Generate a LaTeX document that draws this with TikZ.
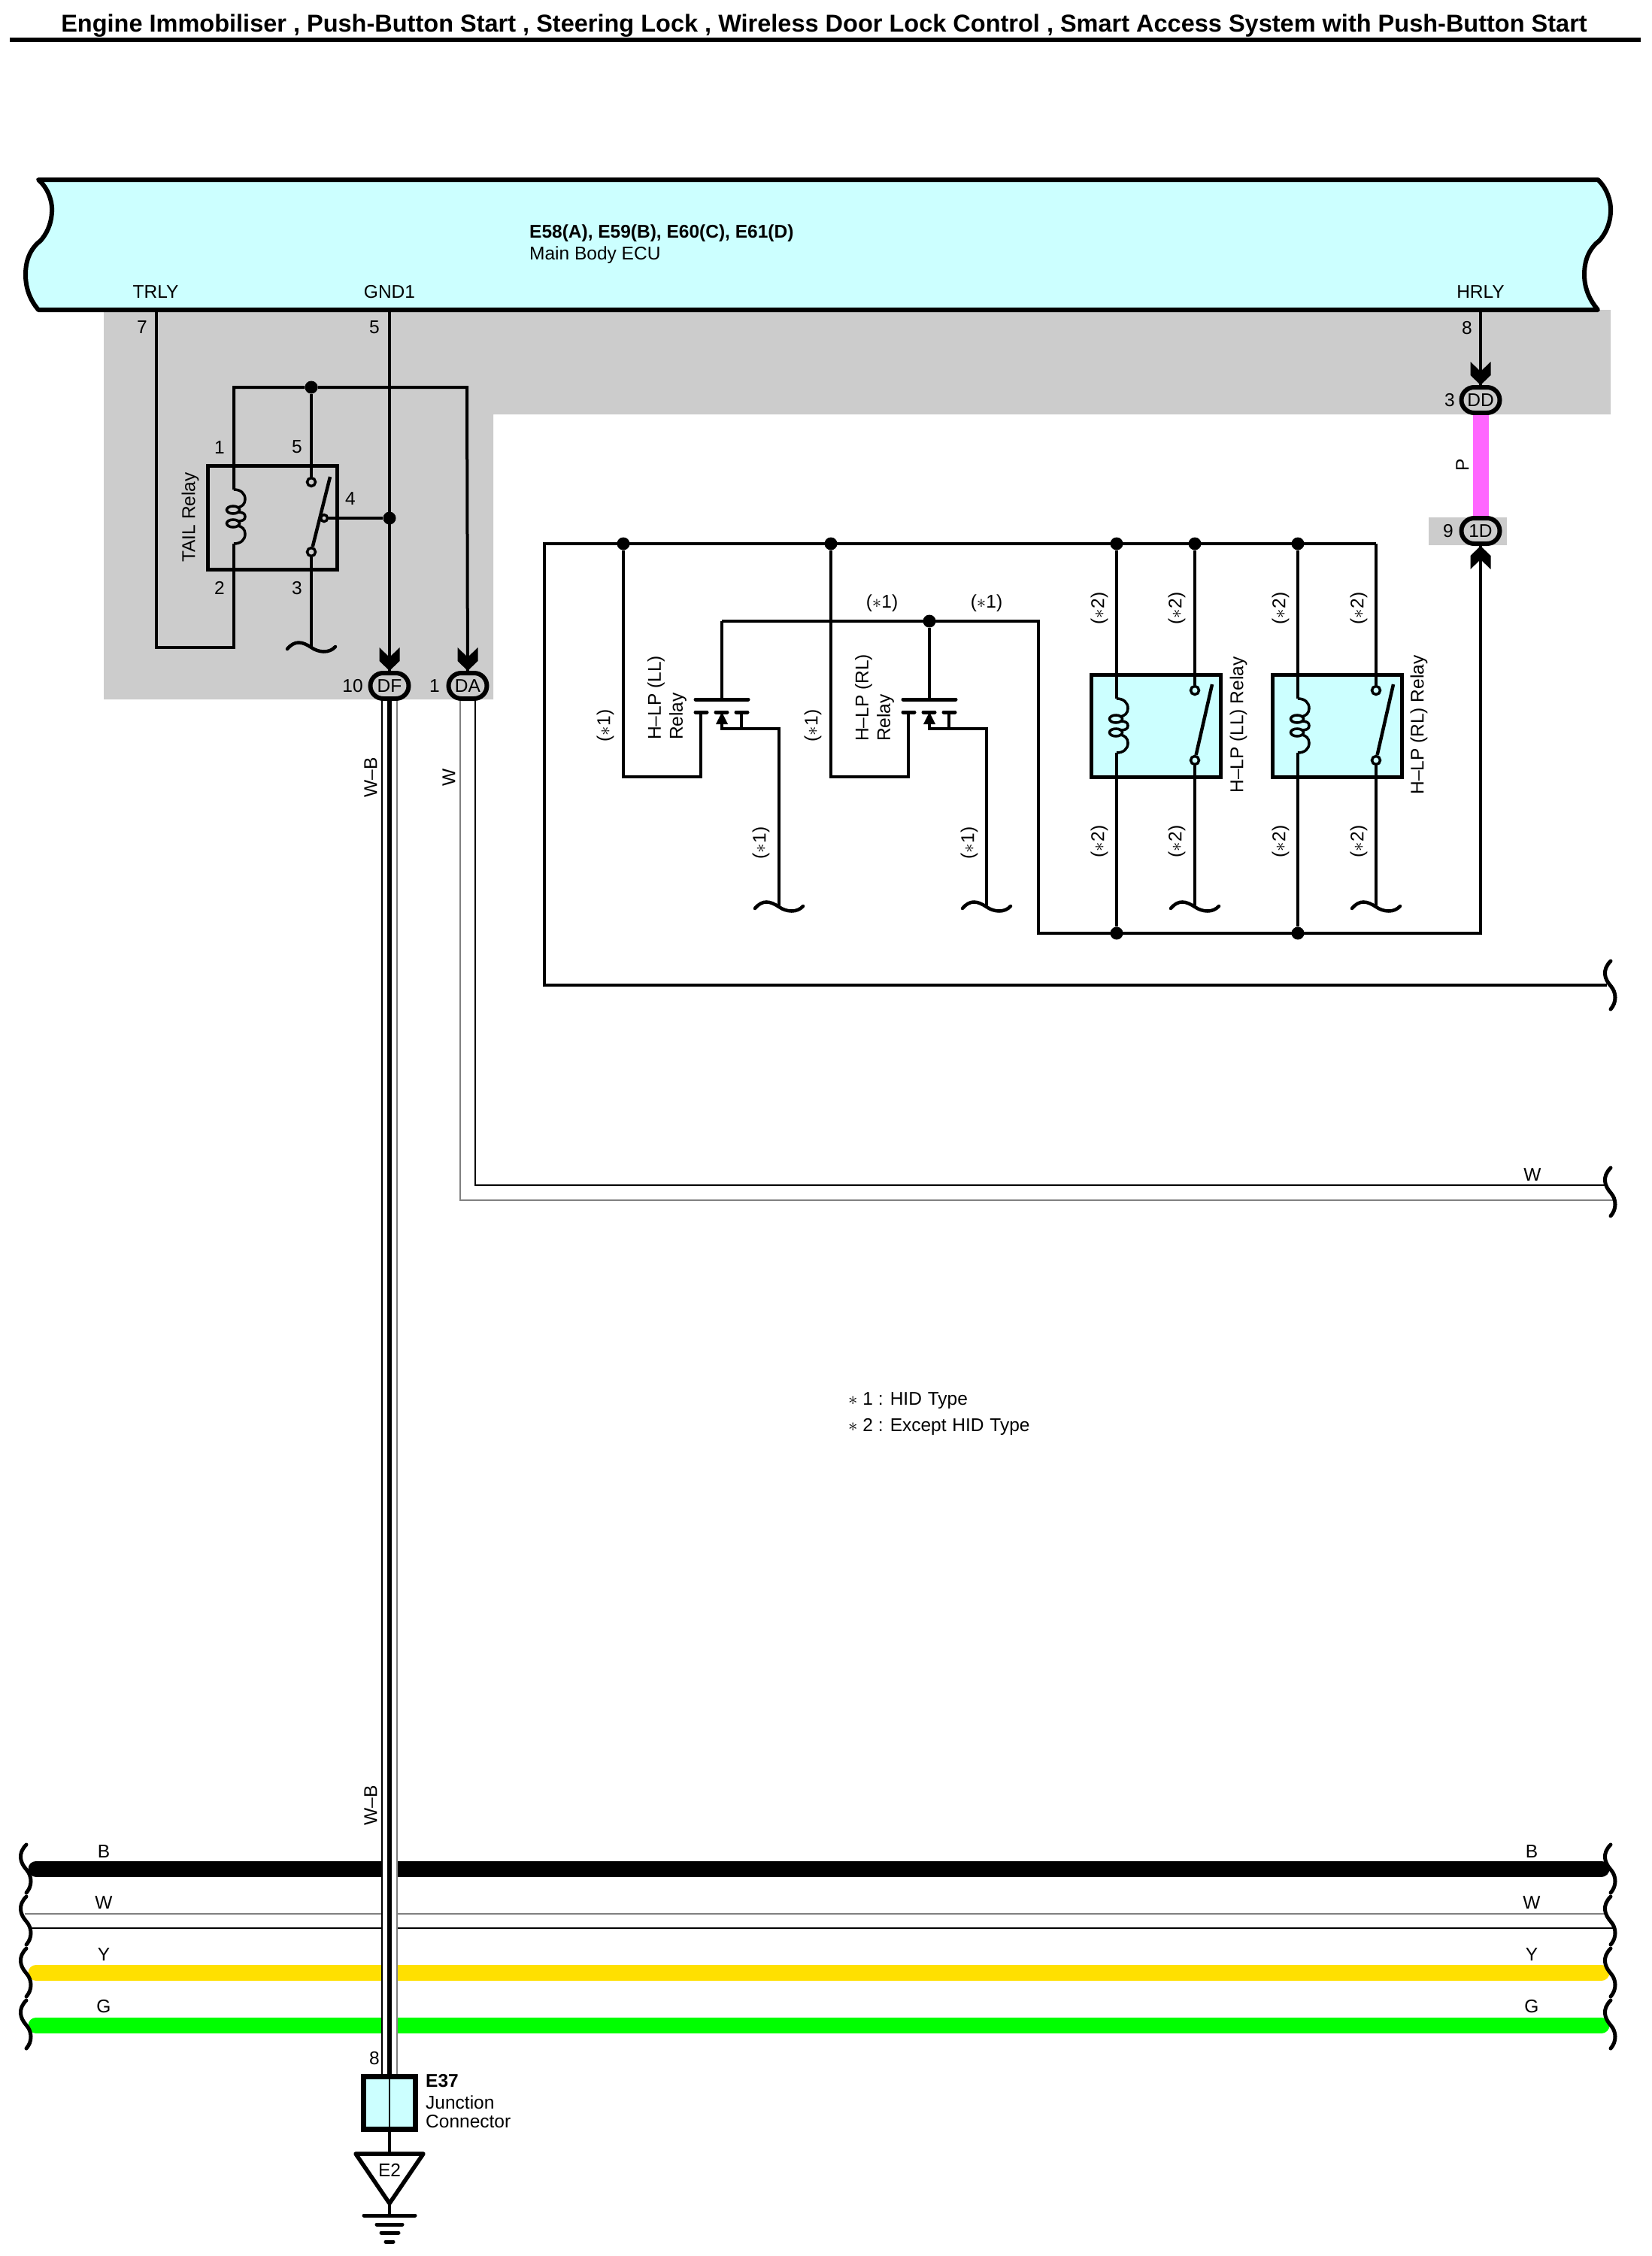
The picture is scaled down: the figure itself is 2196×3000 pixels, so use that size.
\documentclass[tikz,border=0pt]{standalone}
\usepackage{fontspec}
\setmainfont{Liberation Sans}
\usetikzlibrary{positioning}
\definecolor{ecucyan}{HTML}{CCFFFF}
\definecolor{bandgrey}{HTML}{CCCCCC}
\definecolor{wiregrey}{HTML}{808080}
\definecolor{wirepink}{HTML}{FF66FF}
\definecolor{wireyellow}{HTML}{FFE000}
\definecolor{wiregreen}{HTML}{00FF00}
\tikzset{wire/.style = {line width=4pt, line join=miter},
         lbl/.style = {font=\fontsize{24.5}{29}\selectfont, inner sep=0pt},
         dot/.style = {circle, fill=black, inner sep=0pt, minimum size=17pt},
         contact/.style = {circle, draw, line width=3.5pt, inner sep=0pt, minimum size=11pt},
         relaybox/.style = {draw, line width=5pt, inner sep=0pt, minimum width=172pt, minimum height=136pt},
         plug/.style = {lbl, draw, line width=6pt, rounded corners=17pt, minimum width=51pt, minimum height=34pt},
         bar/.style = {line width=5pt, line cap=round},
         hbrace/.style = {line width=5pt, line cap=round},
         busline/.style = {line width=21pt, line cap=round}}

% wavy end of a wire that carries on elsewhere
\newcommand{\wireend}[1]{\draw [line width=4.5pt, line cap=round]
  ([shift={(-32,2)}]#1) .. controls ([shift={(-22,-10)}]#1) and ([shift={(-12,-8)}]#1) .. (#1)
  .. controls ([shift={(10,7)}]#1) and ([shift={(24,8)}]#1) .. ([shift={(32,-1)}]#1);}
\newcommand{\harnessbrace}[1]{\draw [hbrace]
  (#1) .. controls ([shift={(-12,12)}]#1) and ([shift={(-8,24)}]#1) .. ([shift={(0,33)}]#1)
  .. controls ([shift={(8,42)}]#1) and ([shift={(8,55)}]#1) .. ([shift={(0,64)}]#1);}
\newcommand{\relaycoil}[1]{
  \draw [line width=3.5pt]
    (#1) .. controls ([shift={(9,0)}]#1) and ([shift={(15,5)}]#1) .. ([shift={(15,13)}]#1)
    .. controls ([shift={(15,19)}]#1) and ([shift={(11,23)}]#1) .. ([shift={(5,24)}]#1);
  \draw [line width=3.5pt]
    ([shift={(5,30)}]#1) .. controls ([shift={(12,30)}]#1) and ([shift={(15,32)}]#1) .. ([shift={(15,36)}]#1)
    .. controls ([shift={(15,40)}]#1) and ([shift={(12,42)}]#1) .. ([shift={(5,42)}]#1);
  \draw [line width=3.5pt]
    ([shift={(5,48)}]#1) .. controls ([shift={(11,49)}]#1) and ([shift={(15,53)}]#1) .. ([shift={(15,59)}]#1)
    .. controls ([shift={(15,67)}]#1) and ([shift={(9,72)}]#1) .. ([shift={(0,72)}]#1);
  \draw [line width=3.5pt] ([shift={(-1,27)}]#1) ellipse [x radius=8.5, y radius=5];
  \draw [line width=3.5pt] ([shift={(-1,45)}]#1) ellipse [x radius=8.5, y radius=5];}
% #2 is -1 when the tip points down, 1 when it points up
\newcommand{\plugtip}[2]{\fill
  ([shift={(-13.5,#2*31)}]#1) -- ([shift={(-13.5,#2*13)}]#1) -- (#1) -- ([shift={(13.5,#2*13)}]#1)
  -- ([shift={(13.5,#2*31)}]#1) -- ([shift={(0,#2*18)}]#1) -- cycle;}
\newcommand{\hidmark}[1]{($\ast$#1)}

\begin{document}
\begin{tikzpicture}[x=1pt, y=-1pt]
    \useasboundingbox (0, 0) rectangle (2196, 3000);

    \node [anchor=base, inner sep=0pt, font=\fontsize{32.5}{38}\selectfont\bfseries] (pageTitle) at (1096, 43)
      {Engine Immobiliser , Push-Button Start , Steering Lock , Wireless Door Lock Control , Smart Access System with Push-Button Start};
    \coordinate (ruleL) at (13, 53);
    \coordinate (ruleR) at (2182, 53);
    \draw [line width=6.5pt] (ruleL) -- (ruleR);

    % shaded parts
    \fill [bandgrey] (138, 412) -- (2142, 412) -- (2142, 551) -- (656, 551) -- (656, 930) -- (138, 930) -- cycle;
    \fill [bandgrey] (1900, 688) rectangle (2004, 725);

    % main body ECU
    \draw [fill=ecucyan, line width=6pt, line join=round]
      (51, 239) -- (2125, 239) .. controls (2137, 250) and (2143, 268) .. (2142, 282)
      .. controls (2141, 300) and (2134, 312) .. (2127, 320) .. controls (2114, 330) and (2107, 345) .. (2107, 365)
      .. controls (2107, 385) and (2115, 400) .. (2125, 412) -- (51, 412)
      .. controls (41, 400) and (34, 385) .. (34, 365) .. controls (34, 345) and (41, 330) .. (54, 320)
      .. controls (61, 312) and (68, 300) .. (69, 282) .. controls (70, 268) and (64, 250) .. (51, 239) -- cycle;
    \node [lbl, anchor=base west, font=\fontsize{24.5}{29}\selectfont\bfseries] (ecuCode) at (704, 316) {E58(A), E59(B), E60(C), E61(D)};
    \node [lbl, anchor=base west] (ecuName) at (704, 345) {Main Body ECU};
    \node [lbl] (nameTrly) at (207, 388) {TRLY};
    \node [lbl] (nameGnd) at (518, 388) {GND1};
    \node [lbl] (nameHrly) at (1969, 388) {HRLY};
    \node [lbl] (num7) at (189, 435) {7};
    \node [lbl] (num5) at (498, 435) {5};
    \node [lbl] (num8) at (1951, 436) {8};
    \coordinate (pinTrly) at (208, 412);
    \coordinate (pinGnd) at (518, 412);
    \coordinate (pinHrly) at (1969, 412);

    % connectors
    \node [plug] (plugDF) at (518, 912) {DF};
    \node [plug] (plugDA) at (622, 912) {DA};
    \node [plug] (plugDD) at (1969, 532) {DD};
    \node [plug] (plug1D) at (1969, 706) {1D};
    \node [lbl] (num10) at (469, 912) {10};
    \node [lbl] (num1) at (578, 912) {1};
    \node [lbl] (num3) at (1928, 532) {3};
    \node [lbl] (num9) at (1926, 706) {9};
    \plugtip{plugDF.north}{-1}
    \plugtip{plugDA.north}{-1}
    \plugtip{plugDD.north}{-1}
    \plugtip{plug1D.south}{1}
    \draw [wirepink, line width=21pt] (plugDD) -- (plug1D);
    \node [lbl, rotate=90] (nameP) at (1945, 618) {P};

    % tail relay
    \node [relaybox, minimum width=172pt, minimum height=138pt] (tailRelay) at (362.5, 688.5) {};
    \node [lbl, rotate=90] (tailName) at (253, 688) {TAIL Relay};
    \node [dot] (jTail) at (414, 515) {};
    \node [dot] (jGnd) at (518, 689) {};
    \node [contact] (tailUp) at (414, 641) {};
    \node [contact] (tailLow) at (414, 734) {};
    \node [contact, minimum size=9pt] (tailPivot) at (431, 689) {};
    \coordinate (tailBend) at (311, 861);
    \coordinate (tailCoilT) at (311, 651);
    \coordinate (tailCoilB) at (311, 723);
    \coordinate (tailTopL) at (311, 515);
    \coordinate (tailTopR) at (621, 515);
    \coordinate (tailArm) at (439, 634);
    \coordinate (tailGnd) at (414, 861);
    \draw [wire] (pinTrly) |- (tailBend) -- (tailCoilB);
    \relaycoil{tailCoilT}
    \draw [wire] (tailCoilT) -- (tailTopL) -- (jTail) -- (tailTopR) -- (plugDA);
    \draw [wire] (jTail) -- (tailUp);
    \draw [wire] (tailLow) -- (tailGnd);
    \draw [line width=4.5pt] (tailLow) -- (tailArm);
    \draw [wire] (tailPivot) -- (jGnd);
    \draw [wire] (pinGnd) -- (plugDF);
    \wireend{tailGnd}
    \node [lbl] (tail1) at (292, 595) {1};
    \node [lbl] (tail5) at (395, 594) {5};
    \node [lbl] (tail4) at (466, 663) {4};
    \node [lbl] (tail2) at (292, 782) {2};
    \node [lbl] (tail3) at (395, 782) {3};

    \draw [wire] (pinHrly) -- (plugDD);

    % long wire round the head lamp relays
    \node [dot] (jLL) at (829, 723) {};
    \node [dot] (jRL) at (1105, 723) {};
    \node [dot] (jCoilA) at (1485, 723) {};
    \node [dot] (jSwA) at (1589, 723) {};
    \node [dot] (jCoilB) at (1726, 723) {};
    \coordinate (mainTR) at (1830, 723);
    \coordinate (mainTL) at (724, 723);
    \coordinate (mainBL) at (724, 1310);
    \coordinate (mainEnd) at (2137, 1310);
    \coordinate (mainBrace) at (2142, 1278);
    \draw [wire] (mainEnd) -- (mainBL) -- (mainTL) -- (mainTR);
    \harnessbrace{mainBrace}

    \node [dot] (jGate) at (1236, 826) {};
    \node [dot] (jLowA) at (1485, 1241) {};
    \node [dot] (jLowB) at (1726, 1241) {};
    \coordinate (gateL) at (960, 826);
    \coordinate (gateR) at (1381, 826);
    \coordinate (lowL) at (1381, 1241);
    \coordinate (lowR) at (1969, 1241);
    \draw [wire] (gateL) -- (gateR) -- (lowL) -- (lowR) -- (plug1D);

    % H-LP (LL), HID type
    \coordinate (llBend) at (829, 1033);
    \coordinate (llLeg) at (932, 947);
    \coordinate (llGate) at (960, 930);
    \coordinate (llDiode) at (960, 963);
    \coordinate (llCorner) at (960, 969);
    \coordinate (llLegR) at (986, 947);
    \coordinate (llDrop) at (1036, 969);
    \coordinate (llGnd) at (1036, 1206);
    \draw [wire] (jLL) -- (llBend) -| (llLeg);
    \draw [wire] (gateL) -- (llGate);
    \draw [bar] (925, 930) -- (995, 930);
    \draw [bar] (925, 947) -- (940, 947);
    \draw [bar] (952, 947) -- (967, 947);
    \draw [bar] (979, 947) -- (994, 947);
    \fill (960, 947) -- (968, 963) -- (952, 963) -- cycle;
    \draw [wire] (llDiode) -- (llCorner) -- (llDrop) -- (llGnd);
    \draw [wire] (llLegR) -- (986, 969);
    \wireend{llGnd}
    \node [lbl, rotate=90, anchor=west, align=left] (llName) at (887, 984) {H--LP (LL)\\Relay};
    \node [lbl, rotate=90] (llMarkA) at (805, 965) {\hidmark{1}};
    \node [lbl, rotate=90] (llMarkB) at (1012, 1121) {\hidmark{1}};

    % H-LP (RL), HID type
    \coordinate (rlBend) at (1105, 1033);
    \coordinate (rlLeg) at (1208, 947);
    \coordinate (rlDiode) at (1236, 963);
    \coordinate (rlCorner) at (1236, 969);
    \coordinate (rlGate) at (1236, 930);
    \coordinate (rlLegR) at (1262, 947);
    \coordinate (rlDrop) at (1312, 969);
    \coordinate (rlGnd) at (1312, 1206);
    \draw [wire] (jRL) -- (rlBend) -| (rlLeg);
    \draw [wire] (jGate) -- (rlGate);
    \draw [bar] (1201, 930) -- (1271, 930);
    \draw [bar] (1201, 947) -- (1216, 947);
    \draw [bar] (1228, 947) -- (1243, 947);
    \draw [bar] (1255, 947) -- (1270, 947);
    \fill (1236, 947) -- (1244, 963) -- (1228, 963) -- cycle;
    \draw [wire] (rlDiode) -- (rlCorner) -- (rlDrop) -- (rlGnd);
    \draw [wire] (rlLegR) -- (1262, 969);
    \wireend{rlGnd}
    \node [lbl, rotate=90, anchor=west, align=left] (rlName) at (1163, 986) {H--LP (RL)\\Relay};
    \node [lbl, rotate=90] (rlMarkA) at (1081, 965) {\hidmark{1}};
    \node [lbl, rotate=90] (rlMarkB) at (1289, 1121) {\hidmark{1}};
    \node [lbl] (gateMarkA) at (1173, 802) {\hidmark{1}};
    \node [lbl] (gateMarkB) at (1312, 802) {\hidmark{1}};

    % H-LP relays, other type
    \begin{scope}
      \node [relaybox, fill=ecucyan] (relayA) at (1537, 965) {};
      \node [contact] (relayAUp) at (1589, 918) {};
      \node [contact] (relayALow) at (1589, 1011) {};
      \coordinate (relayACoilT) at (1485, 929);
      \coordinate (relayACoilB) at (1485, 1001);
      \coordinate (relayAArm) at (1612, 910);
      \coordinate (relayAGnd) at (1589, 1206);
      \draw [wire] (jCoilA) -- (relayACoilT);
      \relaycoil{relayACoilT}
      \draw [wire] (relayACoilB) -- (jLowA);
      \draw [wire] (jSwA) -- (relayAUp);
      \draw [wire] (relayALow) -- (relayAGnd);
      \draw [line width=4.5pt] (relayALow) -- (relayAArm);
      \wireend{relayAGnd}
      \node [lbl, rotate=90] (relayAName) at (1647, 964) {H--LP (LL) Relay};
      \node [lbl, rotate=90] (markA1) at (1462, 809) {\hidmark{2}};
      \node [lbl, rotate=90] (markA2) at (1565, 809) {\hidmark{2}};
      \node [lbl, rotate=90] (markA3) at (1462, 1119) {\hidmark{2}};
      \node [lbl, rotate=90] (markA4) at (1565, 1119) {\hidmark{2}};
    \end{scope}

    \begin{scope}[shift={(241, 0)}]
      \node [relaybox, fill=ecucyan] (relayB) at (1537, 965) {};
      \node [contact] (relayBUp) at (1589, 918) {};
      \node [contact] (relayBLow) at (1589, 1011) {};
      \coordinate (relayBCoilT) at (1485, 929);
      \coordinate (relayBCoilB) at (1485, 1001);
      \coordinate (relayBArm) at (1612, 910);
      \coordinate (relayBGnd) at (1589, 1206);
      \draw [wire] (jCoilB) -- (relayBCoilT);
      \relaycoil{relayBCoilT}
      \draw [wire] (relayBCoilB) -- (jLowB);
      \draw [wire] (mainTR) -- (relayBUp);
      \draw [wire] (relayBLow) -- (relayBGnd);
      \draw [line width=4.5pt] (relayBLow) -- (relayBArm);
      \wireend{relayBGnd}
      \node [lbl, rotate=90] (relayBName) at (1646, 964) {H--LP (RL) Relay};
      \node [lbl, rotate=90] (markB1) at (1462, 809) {\hidmark{2}};
      \node [lbl, rotate=90] (markB2) at (1566, 809) {\hidmark{2}};
      \node [lbl, rotate=90] (markB3) at (1462, 1119) {\hidmark{2}};
      \node [lbl, rotate=90] (markB4) at (1566, 1119) {\hidmark{2}};
    \end{scope}

    % W wire out of DA
    \coordinate (daEndA) at (2145, 1596);
    \coordinate (daEndB) at (2134, 1576);
    \coordinate (daBrace) at (2142, 1553);
    \draw [wiregrey, line width=2pt] ([xshift=-10pt]plugDA.south) |- (daEndA);
    \draw [line width=1.5pt] ([xshift=10pt]plugDA.south) |- (daEndB);
    \harnessbrace{daBrace}
    \node [lbl, rotate=90] (nameDaW) at (597, 1034) {W};
    \node [lbl] (nameDaEnd) at (2038, 1562) {W};

    \node [lbl, anchor=west] (noteA) at (1128, 1863) {$\ast$ 1 : HID\kern1pt\ Type};
    \node [lbl, anchor=west] (noteB) at (1128, 1897) {$\ast$ 2 : Except\kern1pt\ HID\kern1pt\ Type};

    % harness at the bottom
    \coordinate (busBL) at (48, 2485);
    \coordinate (busBR) at (2130, 2485);
    \coordinate (busWtopL) at (33, 2545);
    \coordinate (busWtopR) at (2134, 2545);
    \coordinate (busWlowL) at (41, 2564);
    \coordinate (busWlowR) at (2148, 2564);
    \coordinate (busYL) at (48, 2623);
    \coordinate (busYR) at (2130, 2623);
    \coordinate (busGL) at (48, 2693);
    \coordinate (busGR) at (2130, 2693);
    \draw [busline] (busBL) -- (busBR);
    \draw [wiregrey, line width=2.5pt] (busWtopL) -- (busWtopR);
    \draw [line width=1.5pt] (busWlowL) -- (busWlowR);
    \draw [busline, wireyellow] (busYL) -- (busYR);
    \draw [busline, wiregreen] (busGL) -- (busGR);
    \coordinate (braceL1) at (35, 2453);
    \coordinate (braceL2) at (35, 2522);
    \coordinate (braceL3) at (35, 2591);
    \coordinate (braceL4) at (35, 2660);
    \coordinate (braceR1) at (2142, 2453);
    \coordinate (braceR2) at (2142, 2522);
    \coordinate (braceR3) at (2142, 2591);
    \coordinate (braceR4) at (2142, 2660);
    \harnessbrace{braceL1}
    \harnessbrace{braceL2}
    \harnessbrace{braceL3}
    \harnessbrace{braceL4}
    \harnessbrace{braceR1}
    \harnessbrace{braceR2}
    \harnessbrace{braceR3}
    \harnessbrace{braceR4}
    \node [lbl] (busLabelBL) at (138, 2462) {B};
    \node [lbl] (busLabelWL) at (138, 2530) {W};
    \node [lbl] (busLabelYL) at (138, 2599) {Y};
    \node [lbl] (busLabelGL) at (138, 2668) {G};
    \node [lbl] (busLabelBR) at (2037, 2462) {B};
    \node [lbl] (busLabelWR) at (2037, 2530) {W};
    \node [lbl] (busLabelYR) at (2037, 2599) {Y};
    \node [lbl] (busLabelGR) at (2037, 2668) {G};

    % W-B wire down to E37 and earth
    \node [relaybox, fill=ecucyan, line width=6.5pt, minimum width=69pt, minimum height=70pt] (boxE37) at (518, 2796.5) {};
    \draw [white, line width=20pt] (plugDF) -- (boxE37);
    \draw [line width=1.5pt] ([xshift=-10pt]plugDF.south) -- ([xshift=-10pt]boxE37.north);
    \draw [wiregrey, line width=2pt] ([xshift=10pt]plugDF.south) -- ([xshift=10pt]boxE37.north);
    \draw [line width=6pt] (plugDF) -- (boxE37);
    \draw [line width=2pt] (boxE37.north) -- (boxE37.south);
    \node [lbl, rotate=90] (nameWbA) at (493, 1034) {W--B};
    \node [lbl, rotate=90] (nameWbB) at (493, 2401) {W--B};
    \node [lbl] (num8b) at (498, 2737) {8};
    \node [lbl, anchor=base west, font=\fontsize{24.5}{29}\selectfont\bfseries] (e37Code) at (566, 2775) {E37};
    \node [lbl, anchor=base west] (e37NameA) at (566, 2804) {Junction};
    \node [lbl, anchor=base west] (e37NameB) at (566, 2829) {Connector};

    \coordinate (earthTop) at (518, 2864);
    \coordinate (earthTip) at (518, 2930);
    \coordinate (earthBar) at (518, 2946);
    \draw [wire] (boxE37) -- (earthTop);
    \draw [line width=5.5pt, line join=round] (473, 2864) -- (563, 2864) -- (earthTip) -- cycle;
    \node [lbl] (nameE2) at (518, 2886) {E2};
    \draw [wire] (earthTip) -- (earthBar);
    \draw [bar] (484, 2946) -- (552, 2946);
    \draw [bar] (501, 2958) -- (535, 2958);
    \draw [bar] (507, 2969) -- (530, 2969);
    \draw [bar] (513, 2981) -- (523, 2981);
\end{tikzpicture}
\end{document}
